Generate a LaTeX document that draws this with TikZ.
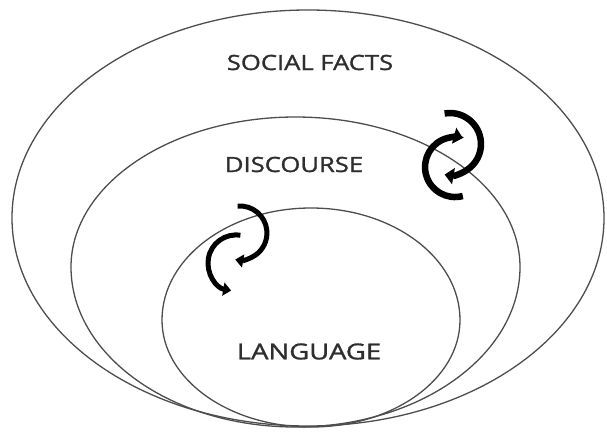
\documentclass[tikz,border=0pt]{standalone}
\usepackage{fontspec}
\setmainfont{Open Sans}
\newfontfamily\lblfont[FakeBold=1.2]{Open Sans}
\usetikzlibrary{arrows.meta}
\definecolor{ringgray}{HTML}{4D4D4D}
\definecolor{labelgray}{HTML}{2E2E2E}
\tikzset{
  ring/.style={draw=ringgray, line width=1.3pt},
  lbl/.style={text=labelgray, font=\lblfont\fontsize{21}{21}\selectfont, inner sep=0pt, anchor=center},
  cyc/.style={draw=black, line width=6.5pt, line cap=butt, -{Triangle[length=9pt,width=16pt]}},
  cycthin/.style={draw=black, line width=5pt, line cap=butt, -{Triangle[length=8pt,width=13pt]}}
}
\begin{document}
\begin{tikzpicture}[x=1pt,y=-1pt]
\useasboundingbox (0,0) rectangle (607,434);
% outer ring: social facts
\path[ring] (308,218) ellipse[x radius=296,y radius=208];
% middle ring: discourse
\path[ring] (71,267) arc[start angle=180,end angle=360,x radius=224.5,y radius=150]
  arc[start angle=0,end angle=180,x radius=224.5,y radius=160] -- cycle;
% inner ring: language
\path[ring] (162,320) arc[start angle=180,end angle=360,x radius=149,y radius=112]
  arc[start angle=0,end angle=180,x radius=149,y radius=107] -- cycle;
% labels
\node[lbl, xscale=1.22] (social) at (310,62.5) {SOCIAL FACTS};
\node[lbl, xscale=1.22] (disc) at (294,164.5) {DISCOURSE};
\node[lbl, xscale=1.25, font=\lblfont\fontsize{22}{22}\selectfont] (lang) at (309,351.5) {LANGUAGE};
% right cycle
\draw[cyc] (444.6,113.5) arc[start angle=-100,end angle=100,radius=31];
\draw[cyc] (462.8,196) arc[start angle=75,end angle=285,radius=30];
% left cycle
\draw[cycthin] (237.6,206.1) arc[start angle=-95,end angle=100,radius=27];
\draw[cycthin] (240.4,235.3) arc[start angle=279,end angle=100,radius=28];
\end{tikzpicture}
\end{document}
